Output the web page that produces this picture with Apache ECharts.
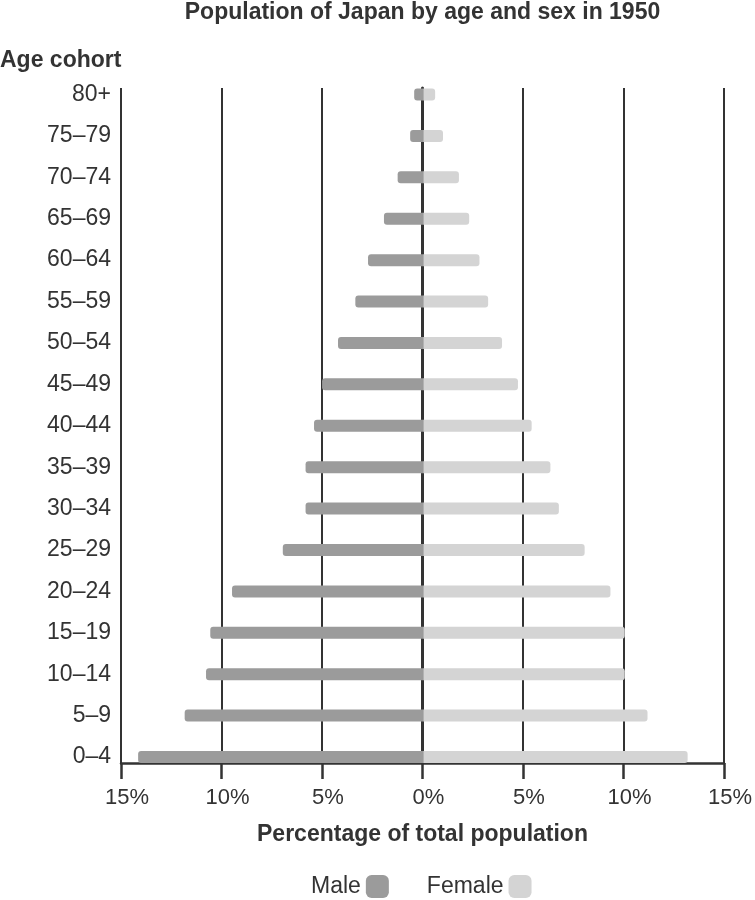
<!DOCTYPE html>
<html>
<head>
<meta charset="utf-8">
<script src="https://cdn.jsdelivr.net/npm/echarts@6/dist/echarts.min.js"></script>
<style>
html,body{margin:0;padding:0;background:#fff;}
#main{width:755px;height:900px;}
</style>
</head>
<body>
<div id="main"></div>
<script>
const ageGroups = ['0–4','5–9','10–14','15–19','20–24','25–29','30–34','35–39','40–44','45–49','50–54','55–59','60–64','65–69','70–74','75–79','80+'];
const maleShare = [14.15, 11.84, 10.78, 10.57, 9.49, 6.97, 5.84, 5.84, 5.42, 5.02, 4.23, 3.37, 2.74, 1.95, 1.27, 0.65, 0.45];
const femaleShare = [13.12, 11.13, 10.0, 10.0, 9.29, 8.01, 6.73, 6.31, 5.38, 4.70, 3.91, 3.22, 2.79, 2.28, 1.77, 0.98, 0.59];
const xMin = -15, xMax = 15, xStep = 5;
const seriesNames = ['Male', 'Female'];

const FONT = '"Liberation Sans", Arial, Helvetica, sans-serif';
const TXT = '#333333';
const LINE = '#333333';
const MALE_C = '#9b9b9b';
const FEMALE_C = '#d4d4d4';

const chart = echarts.init(document.getElementById('main'), null, {renderer: 'canvas'});
chart.setOption({
  animation: false,
  backgroundColor: '#ffffff',
  textStyle: {fontFamily: FONT},
  title: [
    {text: 'Population of Japan by age and sex in 1950', left: 422.5, textAlign: 'center', top: 1, padding: 0,
     textStyle: {fontFamily: FONT, fontSize: 23, fontWeight: 'bold', color: TXT}},
    {text: 'Age cohort', left: 0, top: 49, padding: 0,
     textStyle: {fontFamily: FONT, fontSize: 23, fontWeight: 'bold', color: TXT}}
  ],
  legend: {
    data: seriesNames,
    left: 311, top: 875, padding: 0,
    align: 'right', itemWidth: 23, itemHeight: 23, itemGap: 38,
    icon: 'roundRect',
    textStyle: {fontFamily: FONT, fontSize: 23, color: TXT}
  },
  grid: [
    {left: 121, right: 29.5, top: 88, bottom: 137, containLabel: false},
    {left: 121, right: 29.5, top: 94.5, bottom: 143, containLabel: false}
  ],
  xAxis: [
    {
      type: 'value', gridIndex: 0, min: xMin, max: xMax, interval: xStep,
      name: 'Percentage of total population', nameLocation: 'middle', nameGap: 60,
      nameTextStyle: {fontFamily: FONT, fontSize: 23, fontWeight: 'bold', color: TXT},
      axisLine: {show: true, onZero: false, lineStyle: {color: LINE, width: 2.5}},
      axisTick: {show: true, length: 16, lineStyle: {color: LINE, width: 2.5}},
      axisLabel: {margin: 24, fontFamily: FONT, fontSize: 22, color: TXT, padding: [0, 0, 0, 12],
                  formatter: v => Math.abs(v) + '%'},
      splitLine: {show: true, lineStyle: {color: LINE, width: 2}}
    },
    {
      type: 'value', gridIndex: 1, min: xMin, max: xMax, interval: xStep,
      show: false
    }
  ],
  yAxis: [
    {
      type: 'value', gridIndex: 0, min: 0, max: 1,
      axisLine: {show: true, lineStyle: {color: LINE, width: 3}},
      axisTick: {show: false}, axisLabel: {show: false}, splitLine: {show: false}
    },
    {
      type: 'category', gridIndex: 1, data: ageGroups, boundaryGap: false,
      axisLine: {show: false}, axisTick: {show: false}, splitLine: {show: false},
      axisLabel: {margin: 10, fontFamily: FONT, fontSize: 23, color: TXT, interval: 0}
    }
  ],
  series: [
    {
      name: seriesNames[0], type: 'bar', xAxisIndex: 1, yAxisIndex: 1,
      data: maleShare.map(v => -v), barWidth: 12, barGap: '-100%',
      itemStyle: {color: MALE_C, borderRadius: [3, 0, 0, 3]}
    },
    {
      name: seriesNames[1], type: 'bar', xAxisIndex: 1, yAxisIndex: 1,
      data: femaleShare, barWidth: 12, barGap: '-100%',
      itemStyle: {color: FEMALE_C, borderRadius: [0, 3, 3, 0]}
    }
  ]
});
</script>
</body>
</html>
